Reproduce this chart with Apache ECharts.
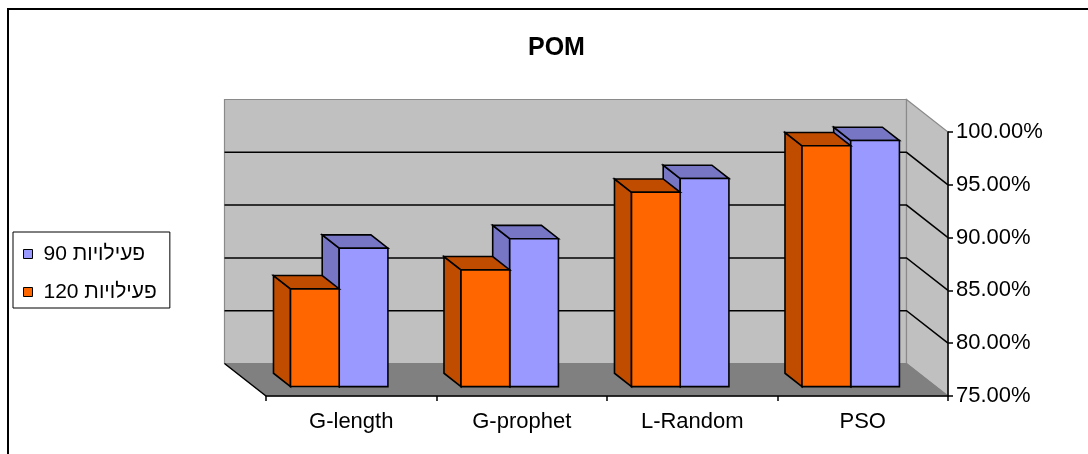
<!DOCTYPE html>
<html>
<head>
<meta charset="utf-8">
<script src="https://cdn.jsdelivr.net/npm/echarts@6/dist/echarts.min.js"></script>
<style>
  html, body { margin: 0; padding: 0; background: #ffffff; }
  #chart { width: 1088px; height: 454px; }
</style>
</head>
<body>
<div id="chart"></div>
<script>
// Chart data
const categories = ['G-length', 'G-prophet', 'L-Random', 'PSO'];
const seriesNames = ['90 פעילויות', '120 פעילויות'];
const values90 = [0.881, 0.890, 0.947, 0.983];
const values120 = [0.8425, 0.8605, 0.934, 0.978];
const yTicks = [0.75, 0.80, 0.85, 0.90, 0.95, 1.00];

const FONT = "'Liberation Sans', Arial, sans-serif";

// Oblique depth: offset from the front plane to the back wall (px)
const DEPTH = [-41.5, -32.5];
// Bars occupy this slice of the depth (fractions of DEPTH)
const BAR_FRONT = 0.29;
const BAR_BACK = 0.70;

const COLORS = {
  blue: { front: '#9999FF', shade: '#7676C4' },
  orange: { front: '#FF6600', shade: '#C04C00' }
};

const yMin = yTicks[0];
const yMax = yTicks[yTicks.length - 1];

// Back wall, side wall, floor and wall gridlines
function renderWalls(params, api) {
  const cs = params.coordSys;
  const xl = cs.x, xr = cs.x + cs.width;
  const yTop = api.coord([0, yMax])[1];
  const yBot = api.coord([0, yMin])[1];
  const dx = DEPTH[0], dy = DEPTH[1];
  const children = [];
  // back wall
  children.push({
    type: 'polygon',
    shape: { points: [[xl + dx, yTop + dy], [xr + dx, yTop + dy], [xr + dx, yBot + dy], [xl + dx, yBot + dy]] },
    style: { fill: '#C0C0C0', stroke: '#8A8A8A', lineWidth: 1.2 }
  });
  // right side wall
  children.push({
    type: 'polygon',
    shape: { points: [[xr + dx, yTop + dy], [xr, yTop], [xr, yBot], [xr + dx, yBot + dy]] },
    style: { fill: '#C0C0C0', stroke: '#8A8A8A', lineWidth: 1.2 }
  });
  // floor
  children.push({
    type: 'polygon',
    shape: { points: [[xl + dx, yBot + dy], [xr + dx, yBot + dy], [xr, yBot], [xl, yBot]] },
    style: { fill: '#808080', stroke: '#808080', lineWidth: 1 }
  });
  // floor left edge
  children.push({
    type: 'line',
    shape: { x1: xl + dx, y1: yBot + dy, x2: xl, y2: yBot },
    style: { stroke: '#000', lineWidth: 1.5 }
  });
  // gridlines across back wall and side wall
  yTicks.slice(1, -1).forEach(function (t) {
    const y = api.coord([0, t])[1];
    children.push({
      type: 'polyline',
      shape: { points: [[xl + dx, y + dy], [xr + dx, y + dy], [xr, y]] },
      style: { stroke: '#000', lineWidth: 1.5, fill: null }
    });
  });
  return { type: 'group', children: children };
}

// One 3D column: side face, top face and front face
function makeBarRenderer(isRight, palette) {
  return function (params, api) {
    const cat = api.value(0);
    const v = api.value(1);
    const base = api.coord([cat, yMin]);
    const top = api.coord([cat, v]);
    const catW = api.size([1, 0])[0];
    const bw = catW / 3.5;
    const fx = DEPTH[0] * BAR_FRONT, fy = DEPTH[1] * BAR_FRONT;
    const dx = DEPTH[0] * (BAR_BACK - BAR_FRONT), dy = DEPTH[1] * (BAR_BACK - BAR_FRONT);
    const x0 = base[0] + fx + (isRight ? 0 : -bw);
    const x1 = x0 + bw;
    const yb = base[1] + fy;
    const yt = top[1] + fy;
    const edge = { stroke: '#000', lineWidth: 1.6, lineJoin: 'miter' };
    return {
      type: 'group',
      children: [
        {
          type: 'polygon',
          shape: { points: [[x0, yb], [x0, yt], [x0 + dx, yt + dy], [x0 + dx, yb + dy]] },
          style: Object.assign({ fill: palette.shade }, edge)
        },
        {
          type: 'polygon',
          shape: { points: [[x0, yt], [x1, yt], [x1 + dx, yt + dy], [x0 + dx, yt + dy]] },
          style: Object.assign({ fill: palette.shade }, edge)
        },
        {
          type: 'rect',
          shape: { x: x0, y: yt, width: bw, height: yb - yt },
          style: Object.assign({ fill: palette.front }, edge)
        }
      ]
    };
  };
}

const chart = echarts.init(document.getElementById('chart'), null, { renderer: 'canvas' });

chart.setOption({
  animation: false,
  backgroundColor: '#ffffff',
  textStyle: { fontFamily: FONT },
  title: {
    text: 'POM',
    left: 523,
    top: 31,
    textStyle: { fontFamily: FONT, fontSize: 25, fontWeight: 'bold', color: '#000' }
  },
  legend: {
    orient: 'vertical',
    left: 13,
    top: 232,
    padding: [10, 13, 4, 10],
    itemGap: 14,
    itemWidth: 9,
    itemHeight: 9,
    borderColor: '#000',
    borderWidth: 1,
    selectedMode: false,
    textStyle: { fontFamily: FONT, fontSize: 21, color: '#000', lineHeight: 24, padding: [0, 0, 0, 6] },
    data: [
      { name: seriesNames[0], icon: 'rect', itemStyle: { color: COLORS.blue.front, borderColor: '#000', borderWidth: 1 } },
      { name: seriesNames[1], icon: 'rect', itemStyle: { color: COLORS.orange.front, borderColor: '#000', borderWidth: 1 } }
    ]
  },
  grid: { left: 266, right: 140, top: 132, bottom: 58, containLabel: false },
  xAxis: {
    type: 'category',
    data: categories,
    boundaryGap: true,
    axisLine: { show: true, lineStyle: { color: '#000', width: 1.5 } },
    axisTick: { show: true, length: 5, alignWithLabel: false, lineStyle: { color: '#000', width: 1.5 } },
    axisLabel: { fontFamily: FONT, fontSize: 22, color: '#000', margin: 15 },
    splitLine: { show: false }
  },
  yAxis: {
    type: 'value',
    position: 'right',
    min: yMin,
    max: yMax,
    interval: 0.05,
    axisLine: { show: true, lineStyle: { color: '#000', width: 1.5 } },
    axisTick: { show: true, length: 5, lineStyle: { color: '#000', width: 1.5 } },
    axisLabel: {
      fontFamily: FONT, fontSize: 22, color: '#000', margin: 8,
      formatter: function (v) { return (v * 100).toFixed(2) + '%'; }
    },
    splitLine: { show: false }
  },
  graphic: [
    {
      type: 'rect',
      silent: true,
      shape: { x: 8, y: 9, width: 1100, height: 470 },
      style: { fill: null, stroke: '#000', lineWidth: 2 }
    }
  ],
  series: [
    {
      name: 'walls',
      type: 'custom',
      silent: true,
      z: 0,
      renderItem: renderWalls,
      data: [[0, yMin]]
    },
    {
      name: seriesNames[0],
      type: 'custom',
      z: 2,
      itemStyle: { color: COLORS.blue.front },
      renderItem: makeBarRenderer(true, COLORS.blue),
      encode: { x: 0, y: 1 },
      data: values90.map(function (v, i) { return [i, v]; })
    },
    {
      name: seriesNames[1],
      type: 'custom',
      z: 3,
      itemStyle: { color: COLORS.orange.front },
      renderItem: makeBarRenderer(false, COLORS.orange),
      encode: { x: 0, y: 1 },
      data: values120.map(function (v, i) { return [i, v]; })
    }
  ]
});
</script>
</body>
</html>
